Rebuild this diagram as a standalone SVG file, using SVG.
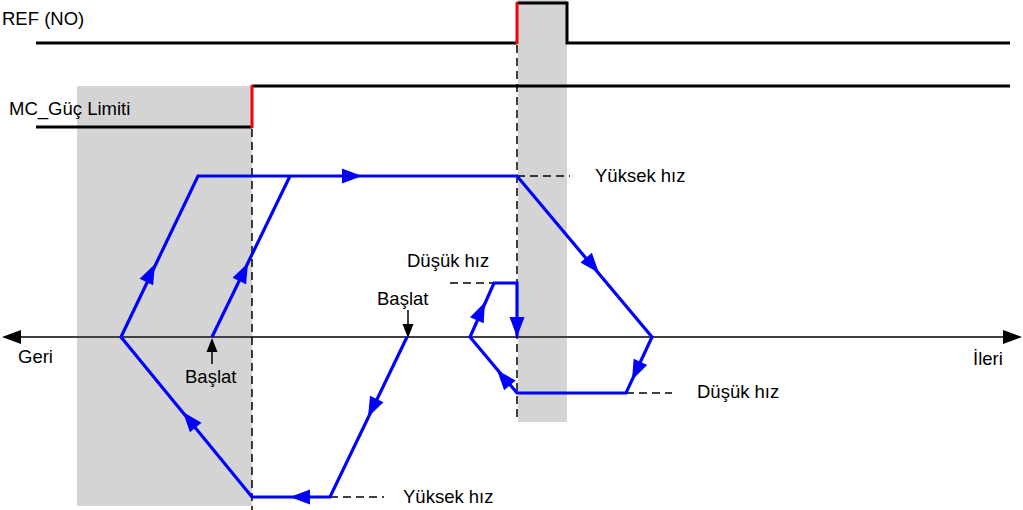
<svg xmlns="http://www.w3.org/2000/svg" xmlns:xlink="http://www.w3.org/1999/xlink" width="1023" height="510" viewBox="0 0 1023 510">
<style>
text{font-family:"Liberation Sans",Arial,sans-serif;font-size:18.5px;fill:#000}
.sig{fill:none;stroke:#000;stroke-width:3}
.red{fill:none;stroke:#ff0000;stroke-width:3}
.dash{fill:none;stroke:#000;stroke-width:1.5;stroke-dasharray:8,5}
.blue{fill:none;stroke:#0000ff;stroke-width:3.2;stroke-linejoin:miter}
.axis{fill:none;stroke:#404040;stroke-width:2}
.shade{fill:#d4d4d4}
</style>
<defs>
<path id="bh" d="M0,0 L-20,-7.5 L-20,7.5 Z" fill="#0000ff"/>
<path id="kh" d="M0,0 L-14,-5.5 L-14,5.5 Z" fill="#000"/>
<path id="ah" d="M0,0 L-19,-7 L-19,7 Z" fill="#000"/>
</defs>
<rect class="shade" x="77" y="86" width="175" height="420"/>
<rect class="shade" x="518" y="0" width="49" height="422"/>
<g id="axis">
<line class="axis" x1="10" y1="337" x2="1014" y2="337"/>
<use href="#ah" transform="translate(1022,337)"/>
<use href="#ah" transform="translate(2,337) rotate(180)"/>
</g>
<g id="ref-signal">
<text x="2" y="25">REF (NO)</text>
<path class="sig" d="M36,43 H517 M517,3 H567 V43 H1010"/>
<line class="red" x1="517" y1="2" x2="517" y2="44"/>
</g>
<g id="mc-signal">
<text x="9" y="115">MC_Güç Limiti</text>
<path class="sig" d="M36,127 H252 M252,86 H1010"/>
<line class="red" x1="252" y1="85" x2="252" y2="128"/>
</g>
<g id="connectors">
<line class="dash" x1="252" y1="129" x2="252" y2="510"/>
<line class="dash" x1="517" y1="45" x2="517" y2="422"/>
<line class="dash" x1="517" y1="176" x2="570" y2="176"/>
<line class="dash" x1="330" y1="497" x2="384" y2="497"/>
<line class="dash" x1="626" y1="393" x2="672" y2="393"/>
<line class="dash" x1="450" y1="283" x2="494" y2="283"/>
<path class="blue" d="M407,337 L330,497 H252 L121,337 L198,176 H517 L652,337 L626,393 H517 L470,337 L494,283 H517 V337"/>
<path class="blue" d="M212,337 L290,176"/>
<use href="#bh" transform="translate(155,264) rotate(-64.4)"/>
<use href="#bh" transform="translate(248,263) rotate(-64.2)"/>
<use href="#bh" transform="translate(362,176)"/>
<use href="#bh" transform="translate(599,273) rotate(50)"/>
<use href="#bh" transform="translate(632,380) rotate(115)"/>
<use href="#bh" transform="translate(497,370) rotate(-130)"/>
<use href="#bh" transform="translate(485,302) rotate(-66)"/>
<use href="#bh" transform="translate(517,337) rotate(90)"/>
<use href="#bh" transform="translate(368,417) rotate(116)"/>
<use href="#bh" transform="translate(290,497) rotate(180)"/>
<use href="#bh" transform="translate(183,412) rotate(-129.5)"/>
<line stroke="#000" stroke-width="1.5" x1="408" y1="310" x2="408" y2="325"/>
<use href="#kh" transform="translate(408,338) rotate(90)"/>
<line stroke="#000" stroke-width="1.5" x1="212" y1="364" x2="212" y2="350"/>
<use href="#kh" transform="translate(212,338) rotate(-90)"/>
</g>
<g id="labels">
<text x="18" y="363">Geri</text>
<text x="973" y="365">İleri</text>
<text x="185" y="383">Başlat</text>
<text x="377" y="305">Başlat</text>
<text x="407" y="267">Düşük hız</text>
<text x="595" y="182">Yüksek hız</text>
<text x="403" y="503">Yüksek hız</text>
<text x="697" y="398">Düşük hız</text>
</g>
</svg>
